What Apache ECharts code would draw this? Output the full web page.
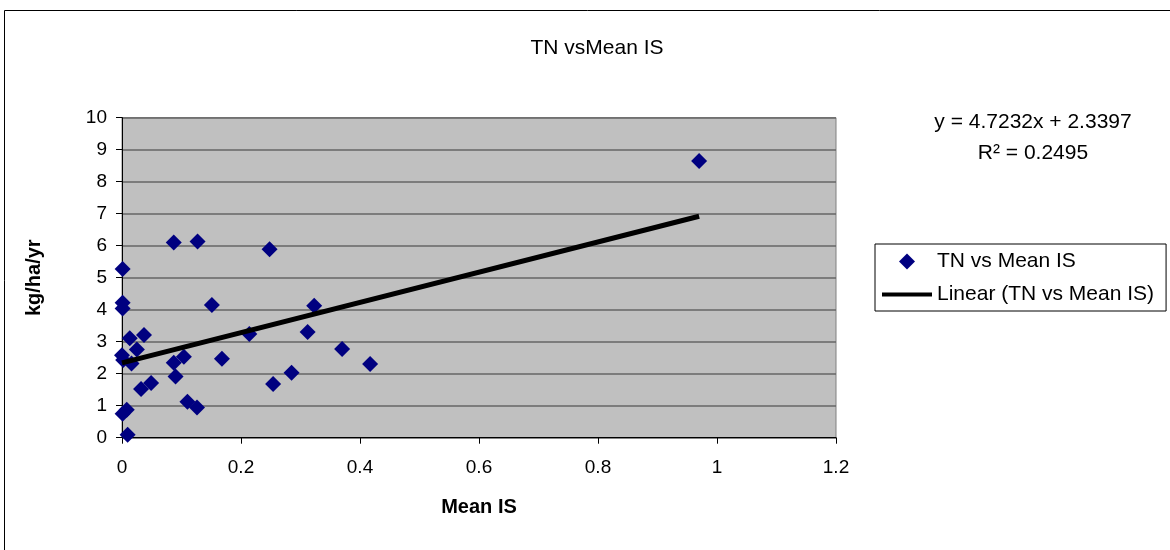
<!DOCTYPE html>
<html>
<head>
<meta charset="utf-8">
<script src="https://cdn.jsdelivr.net/npm/echarts@6/dist/echarts.min.js"></script>
<style>html,body{margin:0;padding:0;background:#fff;}#c{width:1170px;height:550px;}</style>
</head>
<body>
<div id="c"></div>
<script>
// Data
var meanIS = [0.087,0.127,0.248,0.001,0.001,0.001,0.151,0.013,0.037,0.025,0.214,0.000,0.002,0.016,0.087,0.104,0.168,0.090,0.032,0.049,0.254,0.285,0.110,0.126,0.008,0.001,0.0095,0.323,0.312,0.370,0.417,0.970];
var tnValues = [6.10,6.13,5.89,5.27,4.22,4.04,4.15,3.11,3.21,2.76,3.24,2.58,2.43,2.32,2.34,2.53,2.47,1.91,1.52,1.71,1.68,2.03,1.12,0.94,0.87,0.75,0.09,4.12,3.30,2.77,2.30,8.65];
var trendX = [0, 0.97];
var trendY = [2.34, 6.92];
var xTicks = ['0','0.2','0.4','0.6','0.8','1','1.2'];
var yTicks = ['0','1','2','3','4','5','6','7','8','9','10'];
var titleText = 'TN vsMean IS';
var eqLine1 = 'y = 4.7232x + 2.3397';
var eqLine2 = 'R\u00B2 = 0.2495';
var seriesName = 'TN vs Mean IS';
var trendName = 'Linear (TN vs Mean IS)';

var scatterData = meanIS.map(function (x, i) { return [x, tnValues[i]]; });
var trendData = trendX.map(function (x, i) { return [x, trendY[i]]; });
var FONT = 'Liberation Sans, Arial, sans-serif';

var chart = echarts.init(document.getElementById('c'));
chart.setOption({
  backgroundColor: '#fff',
  animation: false,
  graphic: [
    { type: 'rect', shape: { x: 4.5, y: 10.5, width: 1300, height: 700 }, style: { fill: 'none', stroke: '#000', lineWidth: 1 }, silent: true, z: -1 },
    { type: 'text', x: 597, y: 48, style: { text: titleText, font: '21px ' + FONT, fill: '#000', align: 'center', verticalAlign: 'middle' } },
    { type: 'text', x: 1033, y: 122, style: { text: eqLine1, font: '21px ' + FONT, fill: '#000', align: 'center', verticalAlign: 'middle' } },
    { type: 'text', x: 1033, y: 153, style: { text: eqLine2, font: '21px ' + FONT, fill: '#000', align: 'center', verticalAlign: 'middle' } }
  ],
  grid: {
    left: 122, right: 334, top: 117.7, bottom: 112.3,
    show: true, backgroundColor: '#C0C0C0', borderColor: '#808080', borderWidth: 1
  },
  legend: {
    orient: 'vertical', left: 875, top: 244,
    padding: [7, 12, 6, 5],
    itemWidth: 50, itemHeight: 16, itemGap: 12,
    backgroundColor: '#fff', borderColor: '#000', borderWidth: 1, borderRadius: 0,
    textStyle: { fontFamily: FONT, fontSize: 21, color: '#000', lineHeight: 21 },
    data: [
      { name: seriesName, icon: 'path://M0,-1L1,0L0,1L-1,0Z', itemStyle: { color: '#000080', opacity: 1 } },
      { name: trendName, itemStyle: { color: 'rgba(0,0,0,0)', borderWidth: 0 }, lineStyle: { color: '#000', width: 4 } }
    ]
  },
  xAxis: {
    type: 'value', min: 0, max: 1.2, interval: 0.2,
    name: 'Mean IS', nameLocation: 'middle', nameGap: 60,
    nameTextStyle: { fontFamily: FONT, fontSize: 20, fontWeight: 'bold', color: '#000' },
    axisLine: { show: true, onZero: false, lineStyle: { color: '#000', width: 1 } },
    axisTick: { show: true, length: 6, lineStyle: { color: '#000' } },
    axisLabel: { margin: 21, fontFamily: FONT, fontSize: 19, color: '#000',
      formatter: function (v) { var i = Math.round(v / 0.2); return xTicks[i] !== undefined ? xTicks[i] : ''; } },
    splitLine: { show: false }
  },
  yAxis: {
    type: 'value', min: 0, max: 10, interval: 1,
    name: 'kg/ha/yr', nameLocation: 'middle', nameGap: 78, nameRotate: 90,
    nameTextStyle: { fontFamily: FONT, fontSize: 20, fontWeight: 'bold', color: '#000' },
    axisLine: { show: true, lineStyle: { color: '#000', width: 1 } },
    axisTick: { show: true, length: 6, lineStyle: { color: '#000' } },
    axisLabel: { margin: 15, fontFamily: FONT, fontSize: 19, color: '#000',
      formatter: function (v) { var i = Math.round(v); return yTicks[i] !== undefined ? yTicks[i] : ''; } },
    splitLine: { show: true, lineStyle: { color: '#666666', width: 1.5 } }
  },
  series: [
    {
      name: seriesName, type: 'scatter', data: scatterData,
      symbol: 'diamond', symbolSize: 16,
      itemStyle: { color: '#000080', opacity: 1 }, z: 2
    },
    {
      name: trendName, type: 'line', data: trendData,
      symbol: 'none', showSymbol: false,
      lineStyle: { color: '#000', width: 5 },
      itemStyle: { color: '#000' }, z: 3
    }
  ]
});
</script>
</body>
</html>
